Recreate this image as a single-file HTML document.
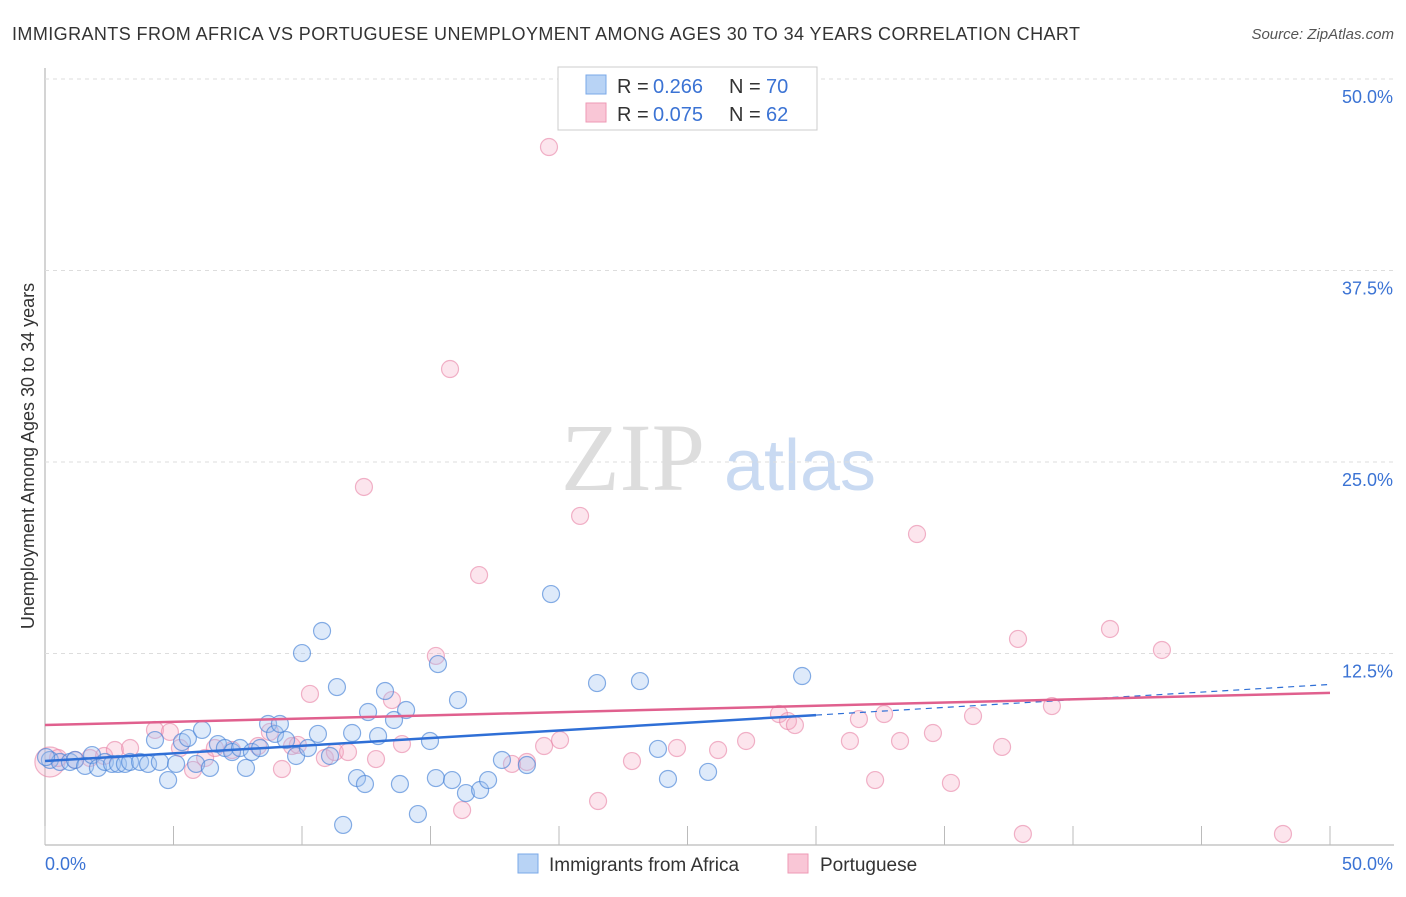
<!DOCTYPE html>
<html><head><meta charset="utf-8"><style>
body{margin:0;background:#fff;font-family:"Liberation Sans",sans-serif}
</style></head><body>
<svg id="c" width="1406" height="892" xmlns="http://www.w3.org/2000/svg">
<text x="12" y="40" font-size="18" fill="#333" textLength="1068" lengthAdjust="spacing">IMMIGRANTS FROM AFRICA VS PORTUGUESE UNEMPLOYMENT AMONG AGES 30 TO 34 YEARS CORRELATION CHART</text>
<text x="1394" y="39" font-size="15" fill="#555" font-style="italic" text-anchor="end">Source: ZipAtlas.com</text>
<text x="633" y="490" font-size="96" fill="#ddd" font-family="Liberation Serif,serif" text-anchor="middle">ZIP</text>
<text x="800" y="490" font-size="72" fill="#c9daf2" text-anchor="middle">atlas</text>
<text transform="translate(34,456) rotate(-90)" font-size="18" fill="#333" text-anchor="middle">Unemployment Among Ages 30 to 34 years</text>
<g id="grid"></g><g id="pts"></g><g id="lines"></g>
<g>
<rect x="558" y="67" width="259" height="63" fill="#fff" stroke="#ccc"/>
<rect x="586" y="75" width="20" height="19" fill="#b8d3f5" stroke="#7aa8e8"/>
<rect x="586" y="103" width="20" height="19" fill="#f9c6d6" stroke="#ee9ab5"/>
<text x="617" y="93" font-size="20" fill="#333">R =</text>
<text x="653" y="93" font-size="20" fill="#3b73d4">0.266</text>
<text x="729" y="93" font-size="20" fill="#333">N =</text>
<text x="766" y="93" font-size="20" fill="#3b73d4">70</text>
<text x="617" y="121" font-size="20" fill="#333">R =</text>
<text x="653" y="121" font-size="20" fill="#3b73d4">0.075</text>
<text x="729" y="121" font-size="20" fill="#333">N =</text>
<text x="766" y="121" font-size="20" fill="#3b73d4">62</text>
</g>
<g>
<rect x="518" y="854" width="20" height="19" fill="#b8d3f5" stroke="#7aa8e8"/>
<text x="549" y="871" font-size="19" fill="#333">Immigrants from Africa</text>
<rect x="788" y="854" width="20" height="19" fill="#f9c6d6" stroke="#ee9ab5"/>
<text x="820" y="871" font-size="19" fill="#333">Portuguese</text>
</g>
</svg>
<script>
const xTicks=[0,5,10,15,20,25,30,35,40,45,50];
const yTicks=[12.5,25,37.5,50];
const yTickLabels=["12.5%","25.0%","37.5%","50.0%"];
const blueX=[0.19,0.58,0.97,1.17,1.56,1.83,2.06,2.33,2.61,2.84,3.11,3.31,3.7,4.01,4.28,4.47,4.79,5.1,5.33,5.56,5.88,6.11,6.42,6.73,7.0,7.28,7.59,7.82,8.05,8.37,8.68,8.95,9.14,9.38,9.77,10.0,10.23,10.62,10.78,11.09,11.36,11.6,11.95,12.14,12.45,12.57,12.96,13.23,13.58,13.81,14.05,14.51,14.98,15.21,15.29,15.84,16.07,16.38,16.93,17.24,17.78,18.75,19.69,21.48,23.15,23.85,24.24,25.8,29.46,0.04];
const blueY=[5.55,5.42,5.42,5.55,5.16,5.87,5.03,5.42,5.29,5.29,5.29,5.42,5.42,5.29,6.85,5.42,4.24,5.29,6.72,6.98,5.29,7.51,5.03,6.59,6.33,6.07,6.33,5.03,6.07,6.33,7.9,7.25,7.9,6.85,5.81,12.53,6.33,7.25,13.97,5.81,10.31,1.31,7.31,4.37,3.98,8.68,7.11,10.05,8.16,3.98,8.81,2.02,6.79,4.37,11.81,4.24,9.46,3.39,3.59,4.24,5.55,5.22,16.38,10.57,10.7,6.27,4.31,4.77,11.03,5.74];
const pinkX=[0.19,0.51,1.17,1.75,2.3,2.72,3.31,4.28,4.86,5.25,5.76,6.23,6.61,7.28,8.29,8.75,9.22,9.61,9.84,10.31,10.89,11.28,11.79,12.41,12.88,13.5,13.89,15.21,15.76,16.23,16.89,18.17,18.75,19.42,19.61,20.04,20.82,21.52,22.84,24.59,26.19,27.28,28.56,28.91,29.18,31.32,31.67,32.3,32.65,33.27,33.93,34.55,35.25,36.11,37.24,37.86,38.05,39.18,41.44,43.46,48.17];
const pinkY=[5.42,5.68,5.55,5.68,5.81,6.2,6.33,7.51,7.38,6.33,4.9,5.68,6.33,6.2,6.46,7.38,4.96,6.46,6.53,9.86,5.68,6.07,6.07,23.37,5.61,9.46,6.59,12.34,31.07,2.28,17.62,5.29,5.42,6.46,45.56,6.85,21.48,2.87,5.48,6.33,6.2,6.79,8.55,8.09,7.83,6.79,8.22,4.24,8.55,6.79,20.3,7.31,4.05,8.42,6.4,13.45,0.72,9.07,14.1,12.73,0.72];
const blueTrend=[5.48,0.1];   // intercept, slope
const pinkTrend=[7.83,0.042];
const sx=v=>45+v*25.7, sy=v=>845-v*15.32;
const NS="http://www.w3.org/2000/svg";
function mk(tag,attrs,parent){const e=document.createElementNS(NS,tag);for(const k in attrs)e.setAttribute(k,attrs[k]);document.getElementById(parent).appendChild(e);return e;}
let e=mk('line',{x1:45,y1:68,x2:45,y2:845,stroke:'#aaa'},'grid');


e=mk('line',{x1:45,y1:845,x2:1394,y2:845,stroke:'#aaa'},'grid');


xTicks.forEach(t=>{const x=sx(t);const l=mk('line',{x1:x,y1:826,x2:x,y2:845,stroke:'#bbb'},'grid');

});
yTicks.forEach((t,i)=>{const y=sy(t);const l=mk('line',{x1:45,y1:y,x2:1394,y2:y,stroke:'#ddd','stroke-dasharray':'4,4'},'grid');


const tx=mk('text',{x:1393,y:y+24,'font-size':18,fill:'#3b73d4','text-anchor':'end'},'grid');tx.textContent=yTickLabels[i];

});
let t0=mk('text',{x:45,y:870,'font-size':18,fill:'#3b73d4'},'grid');t0.textContent='0.0%';


let t1=mk('text',{x:1393,y:870,'font-size':18,fill:'#3b73d4','text-anchor':'end'},'grid');t1.textContent='50.0%';


pinkX.forEach((x,i)=>{const c=mk('circle',{cx:sx(x),cy:sy(pinkY[i]),r:i==0?15:8.5,fill:'rgba(246,170,195,0.3)',stroke:'rgba(232,130,165,0.6)','stroke-width':1.2},'pts');

});
blueX.forEach((x,i)=>{const c=mk('circle',{cx:sx(x),cy:sy(blueY[i]),r:8.5,fill:'rgba(160,195,240,0.35)',stroke:'rgba(70,130,215,0.65)','stroke-width':1.2},'pts');

});
const bl=mk('line',{x1:sx(0),y1:sy(blueTrend[0]),x2:sx(30),y2:sy(blueTrend[0]+30*blueTrend[1]),stroke:'#2f6fd6','stroke-width':2.5},'lines');


const bd=mk('line',{x1:sx(30),y1:sy(blueTrend[0]+30*blueTrend[1]),x2:sx(50),y2:sy(blueTrend[0]+50*blueTrend[1]),stroke:'#2f6fd6','stroke-width':1.2,'stroke-dasharray':'6,5'},'lines');


const pl=mk('line',{x1:sx(0),y1:sy(pinkTrend[0]),x2:sx(50),y2:sy(pinkTrend[0]+50*pinkTrend[1]),stroke:'#e0608e','stroke-width':2.5},'lines');


</script>
</body></html>
